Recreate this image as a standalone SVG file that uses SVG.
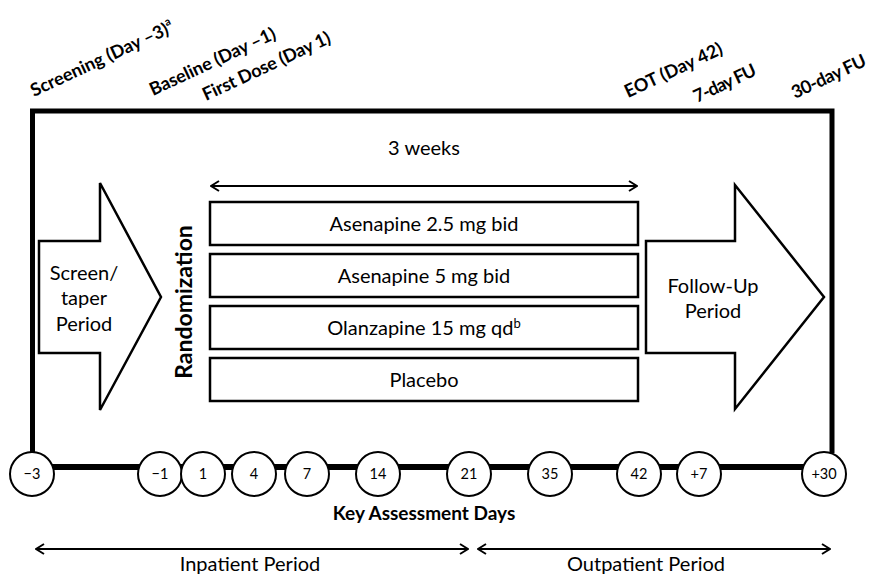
<svg xmlns="http://www.w3.org/2000/svg" width="871" height="576" viewBox="0 0 871 576">
<style>
text{font-family:Lato,"Open Sans","Liberation Sans",sans-serif;fill:#000}
.top{font-size:18px;font-weight:bold}
.box{fill:#fff;stroke:#000;stroke-width:2.5}
.lbl{font-size:20px;text-anchor:middle}
.circ{fill:#fff;stroke:#000;stroke-width:2}
.num{font-size:14.5px;text-anchor:middle}
.thin{stroke:#000;stroke-width:2;fill:none}
</style>
<defs>
<marker id="ah" viewBox="0 0 10 12" refX="9" refY="6" markerWidth="10" markerHeight="12" markerUnits="userSpaceOnUse" orient="auto-start-reverse">
<path d="M1 1 L9 6 L1 11" fill="none" stroke="#000" stroke-width="2"/>
</marker>
</defs>
<rect width="871" height="576" fill="#fff"/>

<g id="top-labels">
<text class="top" transform="translate(34,97) rotate(-25)"><tspan textLength="150" lengthAdjust="spacing">Screening (Day –3)</tspan><tspan font-size="11" dy="-8">a</tspan></text>
<text class="top" transform="translate(153,96) rotate(-25)" textLength="137" lengthAdjust="spacing">Baseline (Day –1)</text>
<text class="top" transform="translate(206,101) rotate(-25)" textLength="139" lengthAdjust="spacing">First Dose (Day 1)</text>
<text class="top" transform="translate(628,98) rotate(-25)" textLength="106" lengthAdjust="spacing">EOT (Day 42)</text>
<text class="top" transform="translate(697,103) rotate(-25)" textLength="67" lengthAdjust="spacing">7-day FU</text>
<text class="top" transform="translate(795,99) rotate(-25)" textLength="80" lengthAdjust="spacing">30-day FU</text>
</g>

<g id="connectors">
<path d="M32.5 452 V111 H832 V453" fill="none" stroke="#000" stroke-width="5"/>
<line x1="32" y1="467" x2="824" y2="467" stroke="#000" stroke-width="6"/>
<line class="thin" x1="211" y1="186" x2="637" y2="186" marker-start="url(#ah)" marker-end="url(#ah)"/>
<line class="thin" x1="36" y1="549" x2="468" y2="549" marker-start="url(#ah)" marker-end="url(#ah)"/>
<line class="thin" x1="478" y1="549" x2="830" y2="549" marker-start="url(#ah)" marker-end="url(#ah)"/>
</g>

<g id="three-weeks"><text class="lbl" x="424" y="155">3 weeks</text></g>

<g id="screen-taper">
<polygon class="box" points="39,241 100,241 100,183 161,297 100,410 100,353 39,353"/>
<text class="lbl" x="84" y="280">Screen/</text>
<text class="lbl" x="84" y="305">taper</text>
<text class="lbl" x="84" y="331">Period</text>
</g>

<g id="randomization">
<text transform="translate(192,302) rotate(-90)" font-size="23" font-weight="bold" text-anchor="middle">Randomization</text>
</g>

<g id="arm1"><rect class="box" x="210" y="202" width="428" height="43"/><text class="lbl" x="424" y="231">Asenapine 2.5 mg bid</text></g>
<g id="arm2"><rect class="box" x="210" y="254" width="428" height="43"/><text class="lbl" x="424" y="283">Asenapine 5 mg bid</text></g>
<g id="arm3"><rect class="box" x="210" y="306" width="428" height="43"/><text class="lbl" x="424" y="335">Olanzapine 15 mg qd<tspan font-size="13" dy="-7">b</tspan></text></g>
<g id="arm4"><rect class="box" x="210" y="358" width="428" height="43"/><text class="lbl" x="424" y="387">Placebo</text></g>

<g id="follow-up">
<polygon class="box" points="646,241 735,241 735,185 824,297 735,409 735,353 646,353"/>
<text class="lbl" x="713" y="293">Follow-Up</text>
<text class="lbl" x="713" y="318">Period</text>
</g>

<g id="day-m3"><circle class="circ" cx="32" cy="474" r="22"/><text class="num" x="32" y="479">−3</text></g>
<g id="day-m1"><circle class="circ" cx="160" cy="474" r="22"/><text class="num" x="160" y="479">−1</text></g>
<g id="day-1"><circle class="circ" cx="203" cy="474" r="22"/><text class="num" x="203" y="479">1</text></g>
<g id="day-4"><circle class="circ" cx="254" cy="474" r="22"/><text class="num" x="254" y="479">4</text></g>
<g id="day-7"><circle class="circ" cx="307" cy="474" r="22"/><text class="num" x="307" y="479">7</text></g>
<g id="day-14"><circle class="circ" cx="378" cy="474" r="22"/><text class="num" x="378" y="479">14</text></g>
<g id="day-21"><circle class="circ" cx="469" cy="474" r="22"/><text class="num" x="469" y="479">21</text></g>
<g id="day-35"><circle class="circ" cx="550" cy="474" r="22"/><text class="num" x="550" y="479">35</text></g>
<g id="day-42"><circle class="circ" cx="639" cy="474" r="22"/><text class="num" x="639" y="479">42</text></g>
<g id="day-p7"><circle class="circ" cx="699" cy="474" r="22"/><text class="num" x="699" y="479">+7</text></g>
<g id="day-p30"><circle class="circ" cx="824" cy="474" r="22"/><text class="num" x="824" y="479">+30</text></g>

<g id="key-days"><text x="424" y="520" font-size="19" font-weight="bold" text-anchor="middle">Key Assessment Days</text></g>
<g id="inpatient"><text class="lbl" x="250" y="571" font-size="16">Inpatient Period</text></g>
<g id="outpatient"><text class="lbl" x="646" y="571" font-size="16">Outpatient Period</text></g>
</svg>
